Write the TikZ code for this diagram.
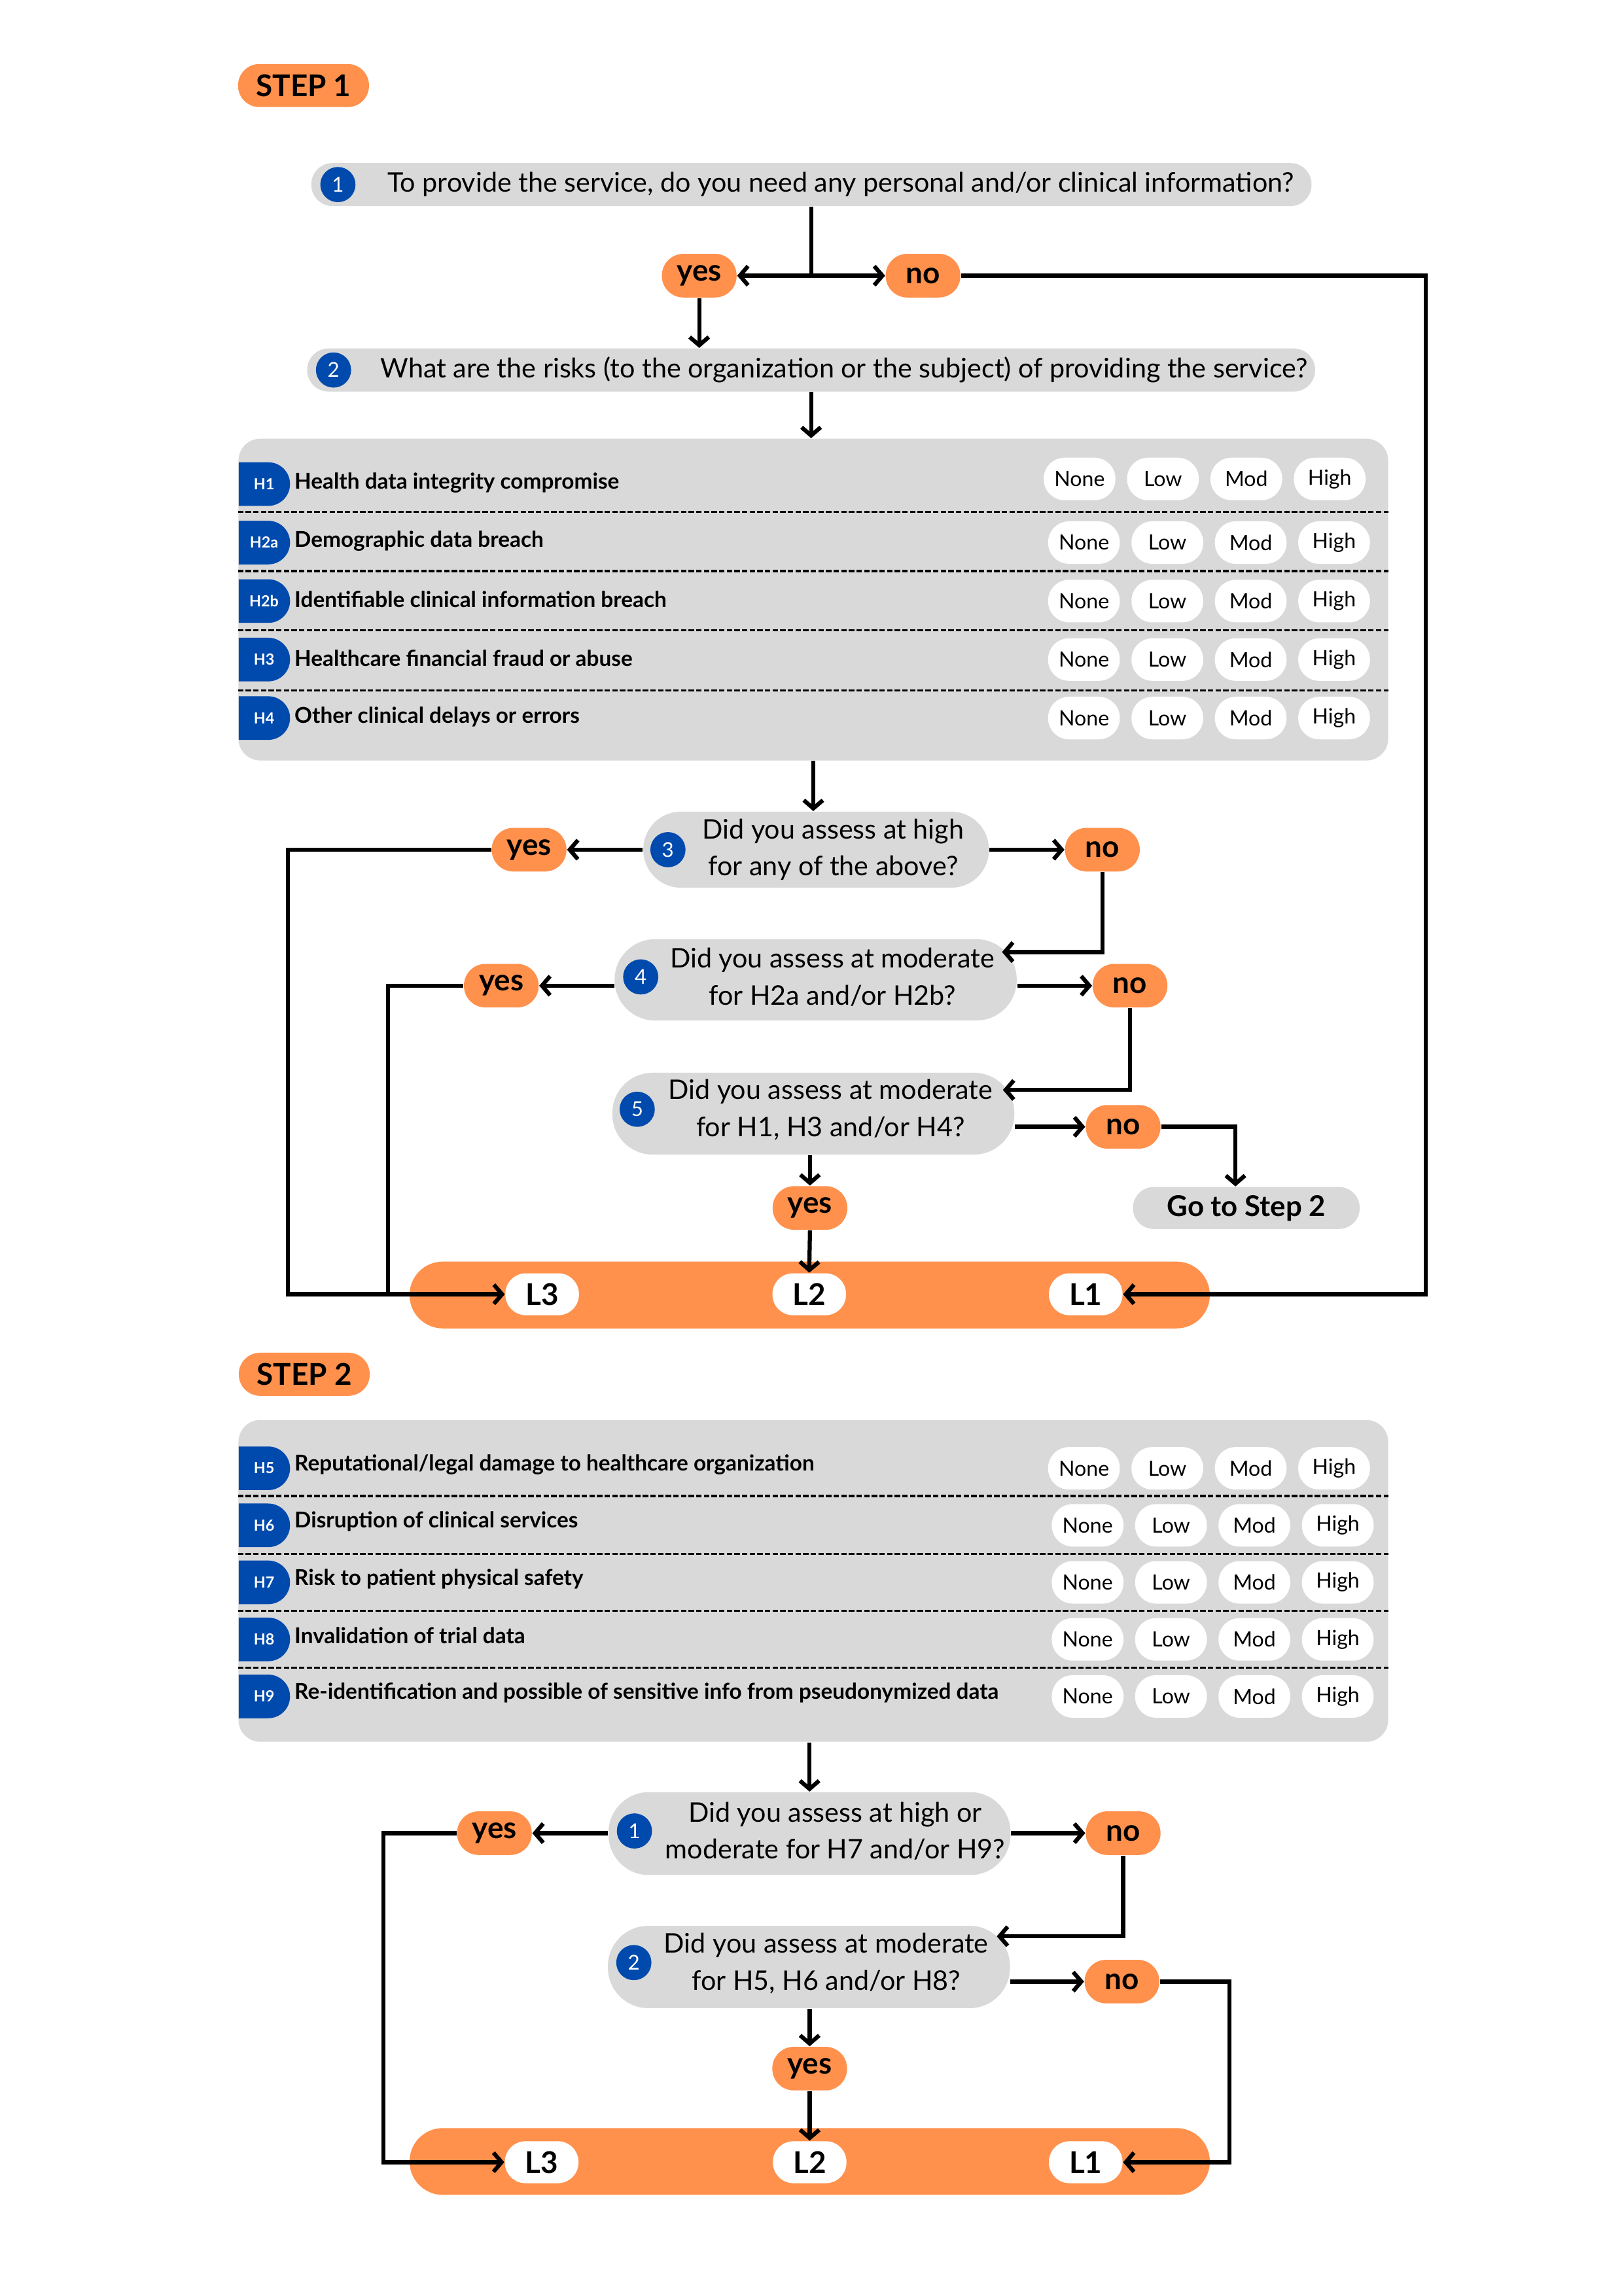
\documentclass[tikz,border=0pt]{standalone}
\usepackage{fontspec}
\setmainfont{Lato}
\usetikzlibrary{arrows.meta,shapes.misc}
\definecolor{orng}{HTML}{FF914D}
\definecolor{lgray}{HTML}{D9D9D9}
\definecolor{dblue}{HTML}{004AAD}
\tikzset{
  stepbadge/.style={rectangle, rounded corners=7.8pt, fill=orng, inner sep=0pt, minimum width=48pt, minimum height=15.8pt, font=\bfseries\fontsize{11}{12}\selectfont},
  yn/.style={rectangle, rounded corners=7.9pt, fill=orng, inner sep=0pt, minimum width=27.4pt, minimum height=16pt, font=\bfseries\fontsize{11}{12}\selectfont},
  lpill/.style={rectangle, rounded corners=7.6pt, fill=white, inner sep=0pt, minimum width=27pt, minimum height=15.4pt, font=\bfseries\fontsize{11}{12}\selectfont},
  lbar/.style={rectangle, rounded corners=12.2pt, fill=orng, minimum width=293.4pt, minimum height=24.5pt},
  ratepill/.style={rectangle, rounded corners=7.7pt, fill=white, inner sep=0pt, minimum width=26.3pt, minimum height=15.6pt, font=\fontsize{7.7}{8}\selectfont},
  htab/.style={rounded rectangle, rounded rectangle left arc=none, fill=dblue, text=white, inner sep=0pt, minimum width=18.8pt, minimum height=16pt, font=\bfseries\fontsize{5.6}{6}\selectfont},
  qbar/.style={rectangle, rounded corners=7.8pt, fill=lgray, inner sep=0pt, minimum height=15.8pt},
  qbox/.style={rectangle, rounded corners=14.8pt, fill=lgray, inner sep=0pt, minimum width=147.4pt, minimum height=30pt},
  qtext/.style={inner sep=0pt, align=center, font=\fontsize{9.9}{13.6}\selectfont},
  qnum/.style={circle, fill=dblue, text=white, inner sep=0pt, minimum size=12.9pt, font=\fontsize{7.5}{8}\selectfont},
  hrow/.style={anchor=west, inner sep=0pt, font=\bfseries\fontsize{8}{9}\selectfont},
  riskbox/.style={rectangle, rounded corners=8pt, fill=lgray, minimum width=421.5pt, minimum height=118pt},
  gobox/.style={rectangle, rounded corners=7.6pt, fill=lgray, inner sep=0pt, minimum width=83.1pt, minimum height=15.4pt, font=\bfseries\fontsize{10.5}{12}\selectfont},
  rowsep/.style={line width=0.8pt, dash pattern=on 2pt off 0.8pt},
  link/.style={line width=1.5pt},
  linkarr/.style={line width=1.5pt, -{Straight Barb[length=3pt,width=7pt]}},
}
\begin{document}
\begin{tikzpicture}[x=0.5363pt,y=-0.5363pt]
\fill[white] (0,0) rectangle (1110,1570);
\useasboundingbox (0,0) rectangle (1110,1570);

%% STEP 1
\node[stepbadge] (st1) at (207.5,58.5) {STEP 1};

\node[qbar, minimum width=366.7pt] (q1) at (554.7,126.2) {};
\node[qnum] (k1) at (231,126.2) {1};
\node[qtext, anchor=west] (q1t) at (264.6,126.2) {To provide the service, do you need any personal and/or clinical information?};

\node[yn] (yes1) at (478,188.5) {yes};
\node[yn] (no1) at (631,188.5) {no};

\node[qbar, minimum width=369.5pt] (q2) at (554.5,253) {};
\node[qnum] (k2) at (228,253) {2};
\node[qtext, anchor=west] (q2t) at (259.8,253) {What are the risks (to the organization or the subject) of providing the service?};

\node[riskbox] (box1) at (556,410) {};
\foreach \y in {350,390.5,431,472}
  \draw[rowsep] (box1.west |- 0,\y) -- (box1.east |- 0,\y);
\foreach \hid/\htxt/\ry/\dx/\dy in {H1/Health data integrity compromise/331/-3/-3.5,
    H2a/Demographic data breach/371/0/0,
    H2b/Identifiable clinical information breach/411/0/0,
    H3/Healthcare financial fraud or abuse/451/0/0,
    H4/Other clinical delays or errors/491/0/0}{
  \node[htab] (t\hid) at (180.5,\ry) {\hid};
  \node[hrow] (d\hid) at (201,{\ry-1}) {\htxt};
  \foreach \lv [count=\i from 0] in {None,Low,Mod,High}
    \node[ratepill] (r\hid\i) at ({741+57*\i+\dx},{\ry+\dy}) {\lv};
}

\node[qbox, minimum width=126.7pt, minimum height=27.9pt, rounded corners=13.8pt] (q3) at (557.9,581) {};
\node[qnum] (k3) at (456.6,581) {3};
\node[qtext] (q3t) at (569.6,581) {Did you assess at high\\for any of the above?};
\node[yn] (yes3) at (361.7,581) {yes};
\node[yn] (no3) at (753.6,581) {no};

\node[qbox, minimum height=29.8pt] (q4) at (557.6,670) {};
\node[qnum] (k4) at (438,668) {4};
\node[qtext] (q4t) at (569,668) {Did you assess at moderate\\for H2a and/or H2b?};
\node[yn] (yes4) at (342.7,674) {yes};
\node[yn] (no4) at (772.5,674) {no};

\node[qbox] (q5) at (556,761.5) {};
\node[qnum] (k5) at (435.6,758.5) {5};
\node[qtext] (q5t) at (567.8,758.8) {Did you assess at moderate\\for H1, H3 and/or H4?};
\node[yn] (yes5) at (553.7,826) {yes};
\node[yn] (no5) at (767.8,770.5) {no};
\node[gobox] (go) at (852,826) {Go to Step 2};

\node[lbar] (bar1) at (553.5,885.5) {};
\node[lpill] (l3a) at (370.6,885) {L3};
\node[lpill] (l2a) at (553.2,885) {L2};
\node[lpill] (l1a) at (742.2,885) {L1};

\coordinate (j1) at (554.7,188.5);
\coordinate (c1) at (974.5,188.5);
\coordinate (c3) at (196.8,581);
\coordinate (c4) at (265.2,885);
\coordinate (q4in) at (685,651);
\coordinate (q5in) at (685.6,745.3);

\draw[link] (q1.south) -- (j1);
\draw[linkarr] (j1) -- (yes1.east);
\draw[linkarr] (j1) -- (no1.west);
\draw[linkarr] (no1.east) -- (c1) |- (l1a.east);
\draw[linkarr] (yes1.south) -- (yes1.south |- q2.north);
\draw[linkarr] (q2.south) -- (q2.south |- box1.north);
\draw[linkarr] (box1.south) -- (box1.south |- q3.north);
\draw[linkarr] (q3.west) -- (yes3.east);
\draw[linkarr] (q3.east) -- (no3.west);
\draw[linkarr] (no3.south) |- (q4in);
\draw[linkarr] (yes3.west) -- (c3) |- (l3a.west);
\draw[linkarr] (q4.west |- yes4) -- (yes4.east);
\draw[linkarr] (q4.east |- no4) -- (no4.west);
\draw[linkarr] (no4.south) |- (q5in);
\draw[link] (yes4.west) -| (c4);
\draw[linkarr] (q5.east |- no5) -- (no5.west);
\draw[linkarr] (no5.east) -| ([xshift=-4pt]go.north);
\draw[linkarr] (q5.south -| yes5) -- (yes5.north);
\draw[linkarr] (yes5.south) -- (l2a.north);

%% STEP 2
\node[stepbadge] (st2) at (208,939.7) {STEP 2};

\node[riskbox] (box2) at (556,1081) {};
\foreach \y in {1023,1062.6,1101.5,1140.5}
  \draw[rowsep] (box2.west |- 0,\y) -- (box2.east |- 0,\y);
\foreach \hid/\htxt/\ry/\dx in {H5/{Reputational/legal damage to healthcare organization}/1004/0,
    H6/Disruption of clinical services/1043/2.5,
    H7/Risk to patient physical safety/1082/2.5,
    H8/Invalidation of trial data/1121/2.5,
    H9/Re-identification and possible of sensitive info from pseudonymized data/1160/2.5}{
  \node[htab] (t\hid) at (180.5,\ry) {\hid};
  \node[hrow] (d\hid) at (201,{\ry-2.5}) {\htxt};
  \foreach \lv [count=\i from 0] in {None,Low,Mod,High}
    \node[ratepill] (r\hid\i) at ({741+57*\i+\dx},\ry) {\lv};
}

\node[qbox, minimum height=30.4pt] (sA) at (553.4,1253.8) {};
\node[qnum] (kA) at (433.7,1252) {1};
\node[qtext] (sAt) at (571,1252) {Did you assess at high or\\moderate for H7 and/or H9?};
\node[yn] (yesA) at (338,1253.5) {yes};
\node[yn] (noA) at (767.8,1253.5) {no};

\node[qbox, minimum height=30.2pt] (sB) at (553,1345) {};
\node[qnum] (kB) at (433.3,1342) {2};
\node[qtext] (sBt) at (564.8,1342.5) {Did you assess at moderate\\for H5, H6 and/or H8?};
\node[yn] (yesB) at (553.5,1414.5) {yes};
\node[yn] (noB) at (767,1355) {no};

\node[lbar] (bar2) at (553.5,1478) {};
\node[lpill] (l3b) at (370.3,1478.5) {L3};
\node[lpill] (l2b) at (553.5,1478.5) {L2};
\node[lpill] (l1b) at (742.2,1478.5) {L1};

\coordinate (cA) at (262,1253.5);
\coordinate (cB) at (840.6,1355);
\coordinate (sBin) at (681.4,1324);

\draw[linkarr] (sA.north |- box2.south) -- (sA.north);
\draw[linkarr] (sA.west |- yesA) -- (yesA.east);
\draw[linkarr] (sA.east |- noA) -- (noA.west);
\draw[linkarr] (noA.south) |- (sBin);
\draw[linkarr] (yesA.west) -- (cA) |- (l3b.west);
\draw[linkarr] (sB.east |- noB) -- (noB.west);
\draw[linkarr] (noB.east) -- (cB) |- (l1b.east);
\draw[linkarr] (sB.south -| yesB) -- (yesB.north);
\draw[linkarr] (yesB.south) -- (l2b.north);

\end{tikzpicture}
\end{document}
